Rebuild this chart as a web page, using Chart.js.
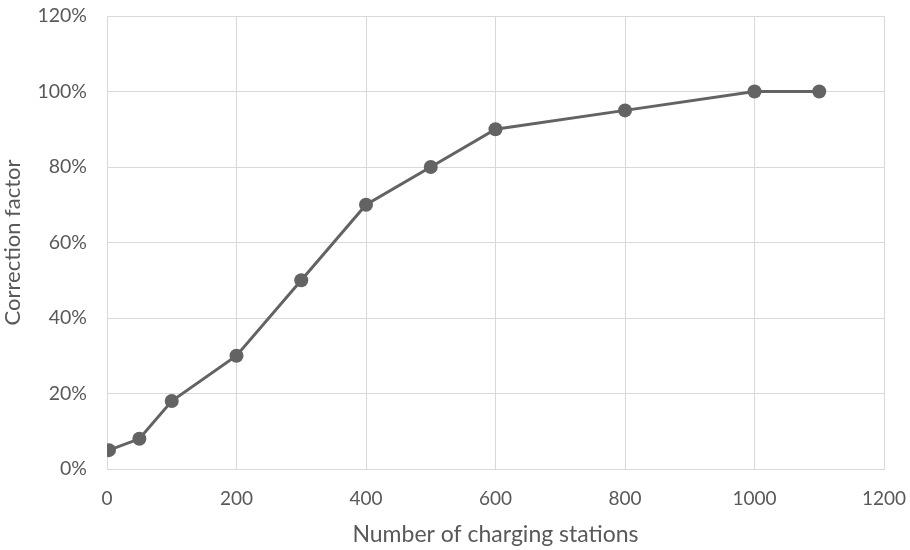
<!DOCTYPE html>
<html><head><meta charset="utf-8">
<script src="https://cdn.jsdelivr.net/npm/chart.js@4"></script>
<style>html,body{margin:0;padding:0;background:#fff}#w{width:910px;height:550px}</style>
</head><body><div id="w"><canvas id="c"></canvas></div>
<script>
const stations = [3, 50, 100, 200, 300, 400, 500, 600, 800, 1000, 1100];
const factor = [5, 8, 18, 30, 50, 70, 80, 90, 95, 100, 100];
const xTitle = 'Number of charging stations';
const yTitle = 'Correction factor';
const points = stations.map((x, i) => ({x, y: factor[i]}));
const FONT = 'Lato, "Open Sans", sans-serif';
const TXT = '#595959';
new Chart(document.getElementById('c'), {
  type: 'scatter',
  data: { datasets: [{ data: points, showLine: true, borderColor: '#636363', backgroundColor: '#636363',
    borderWidth: 3, pointRadius: 7, pointHoverRadius: 7, pointBorderWidth: 0 }] },
  options: {
    responsive: true, maintainAspectRatio: false, animation: false,
    layout: { padding: { left: 0, right: 26, top: 16, bottom: 0 } },
    plugins: { legend: { display: false }, tooltip: { enabled: false } },
    scales: {
      x: { type: 'linear', min: 0, max: 1200,
        ticks: { stepSize: 200, color: TXT, font: { family: FONT, size: 19 }, padding: 18, callback: v => String(v) },
        grid: { color: '#d9d9d9', lineWidth: 1, drawTicks: false },
        border: { color: '#d9d9d9' },
        title: { display: true, text: xTitle, color: TXT, font: { family: FONT, size: 23 }, padding: { top: 4, bottom: 2 } },
        afterFit: s => { s.height = 81; s.paddingLeft = 0; s.paddingRight = 0; } },
      y: { min: 0, max: 120,
        ticks: { stepSize: 20, color: TXT, font: { family: FONT, size: 19.5 }, padding: 20, callback: v => v + '%' },
        grid: { color: '#d9d9d9', lineWidth: 1, drawTicks: false },
        border: { color: '#d9d9d9' },
        title: { display: true, text: yTitle, color: TXT, font: { family: FONT, size: 22 }, padding: { top: 0, bottom: 2 } },
        afterFit: s => { s.width = 107; s.paddingTop = 0; s.paddingBottom = 0; } }
    }
  }
});
</script></body></html>
